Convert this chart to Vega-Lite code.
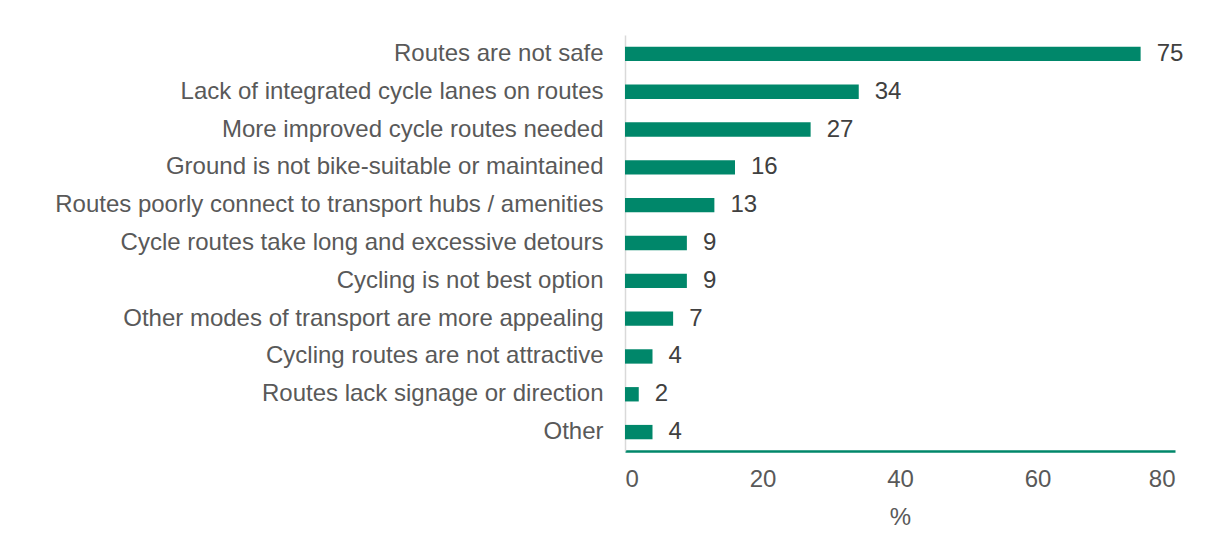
{
  "$schema": "https://vega.github.io/schema/vega-lite/v6.json",
  "width": 550,
  "height": 416,
  "autosize": {"type": "none"},
  "padding": {"left": 625, "top": 35, "right": 46, "bottom": 108},
  "background": "white",
  "data": {
    "values": [
      {"reason": "Routes are not safe", "pct": 75},
      {"reason": "Lack of integrated cycle lanes on routes", "pct": 34},
      {"reason": "More improved cycle routes needed", "pct": 27},
      {"reason": "Ground is not bike-suitable or maintained", "pct": 16},
      {"reason": "Routes poorly connect to transport hubs / amenities", "pct": 13},
      {"reason": "Cycle routes take long and excessive detours", "pct": 9},
      {"reason": "Cycling is not best option", "pct": 9},
      {"reason": "Other modes of transport are more appealing", "pct": 7},
      {"reason": "Cycling routes are not attractive", "pct": 4},
      {"reason": "Routes lack signage or direction", "pct": 2},
      {"reason": "Other", "pct": 4}
    ]
  },
  "config": {
    "view": {"stroke": null},
    "font": "Liberation Sans"
  },
  "encoding": {
    "y": {
      "field": "reason",
      "type": "nominal",
      "sort": null,
      "scale": {"paddingInner": 0.62, "paddingOuter": 0.31},
      "axis": {
        "title": null,
        "ticks": false,
        "labelFontSize": 24,
        "labelColor": "#595959",
        "labelPadding": 22,
        "labelLimit": 620,
        "domainColor": "#D9D9D9",
        "domainWidth": 1.5,
        "grid": false
      }
    },
    "x": {
      "field": "pct",
      "type": "quantitative",
      "scale": {"domain": [0, 80]},
      "axis": {
        "title": "%",
        "titleFontSize": 24,
        "titleFontWeight": "normal",
        "titleColor": "#595959",
        "titlePadding": 14,
        "values": [0, 20, 40, 60, 80],
        "ticks": false,
        "grid": false,
        "labelFontSize": 24,
        "labelColor": "#595959",
        "labelPadding": 16,
        "domainColor": "#00876A",
        "domainWidth": 2.5
      }
    }
  },
  "layer": [
    {"mark": {"type": "bar", "color": "#00876A"}},
    {
      "mark": {"type": "text", "align": "left", "dx": 16, "fontSize": 24, "color": "#404040", "baseline": "middle"},
      "encoding": {"text": {"field": "pct", "type": "quantitative"}}
    }
  ]
}
